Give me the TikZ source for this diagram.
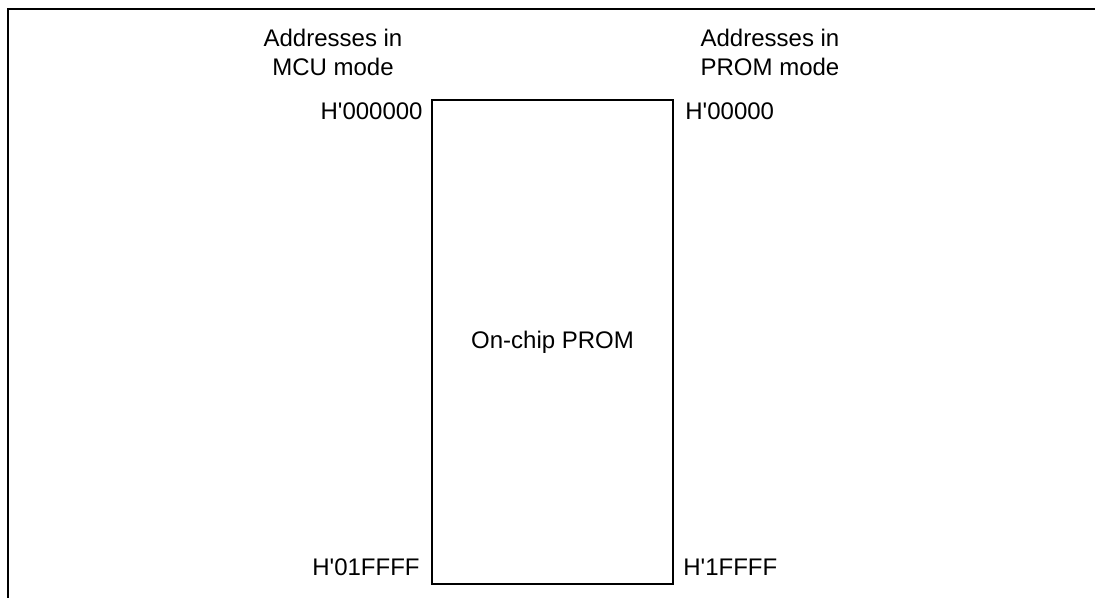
\documentclass[tikz,border=0pt]{standalone}
\usepackage{fontspec}
\setmainfont{Liberation Sans}
\usepackage{tikz}

\tikzset{
    lbl/.style={inner sep=0pt, font=\fontsize{12}{14.5}\selectfont},
    head/.style={lbl, align=center, anchor=north},
}

\begin{document}
\begin{tikzpicture}[x=0.5pt, y=-0.5pt]
    \useasboundingbox (0,0) rectangle (1095,598);
    \draw[line width=1.2pt] (8,598) -- (8,9) -- (1095,9);

    \node[draw, line width=0.7pt, minimum width=120.5pt, minimum height=242pt, lbl] (prom) at (552.5, 342) {On-chip PROM};

    \node[head] (mcuhead) at (333, 29) {Addresses in\\MCU mode};
    \node[head] (promhead) at (770, 29) {Addresses in\\PROM mode};

    \node[lbl, anchor=base east] (mcutop) at (423, 120) {H\textquotesingle000000};
    \node[lbl, anchor=base east] (mcuend) at (420, 575) {H\textquotesingle01FFFF};
    \node[lbl, anchor=base west] (promtop) at (685, 120) {H\textquotesingle00000};
    \node[lbl, anchor=base west] (promend) at (683, 575) {H\textquotesingle1FFFF};
\end{tikzpicture}
\end{document}
